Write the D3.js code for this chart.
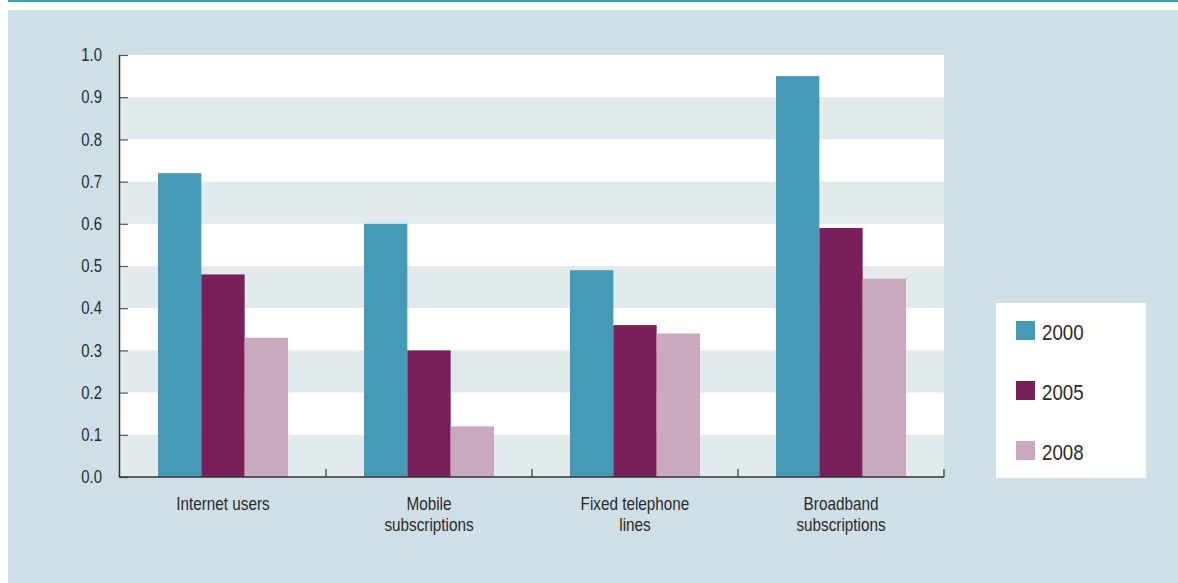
<!DOCTYPE html>
<html>
<head>
<meta charset="utf-8">
<script src="https://cdnjs.cloudflare.com/ajax/libs/d3/7.8.5/d3.min.js"></script>
<style>
  html, body { margin: 0; padding: 0; background: #ffffff; }
  svg { display: block; }
  text { font-family: "Liberation Sans", Arial, Helvetica, sans-serif; fill: #2b2b2b; }
</style>
</head>
<body>
<svg id="chart" width="1178" height="583"></svg>
<script>
// Categories and their label lines
const categories = ["Internet users", "Mobile subscriptions", "Fixed telephone lines", "Broadband subscriptions"];
const categoryLabels = [["Internet users"], ["Mobile", "subscriptions"], ["Fixed telephone", "lines"], ["Broadband", "subscriptions"]];

// Series (years) and values per category
const series = ["2000", "2005", "2008"];
const values2000 = [0.72, 0.60, 0.49, 0.95];
const values2005 = [0.48, 0.30, 0.36, 0.59];
const values2008 = [0.33, 0.12, 0.34, 0.47];
const seriesColors = ["#449bb5", "#7b1f5c", "#caa9bf"];

// Y axis ticks
const yTicks = [0, 0.1, 0.2, 0.3, 0.4, 0.5, 0.6, 0.7, 0.8, 0.9, 1.0];

const seriesValues = [values2000, values2005, values2008];

// Horizontal squeeze that gives the regular sans a condensed look
const NARROW = 0.85;
const FONT = '"Liberation Sans", Arial, Helvetica, sans-serif';

const svg = d3.select("#chart");
const W = 1178, H = 583;

// Frame: thin accent rule at the top and the tinted panel
svg.append("rect").attr("x", 8).attr("y", 0).attr("width", W - 8).attr("height", 2).attr("fill", "#4a9bb5");
svg.append("rect").attr("x", 8).attr("y", 10).attr("width", W - 8).attr("height", H - 10).attr("fill", "#cedfe6");

const plot = { left: 120, right: 944, top: 55, bottom: 477 };

const x0 = d3.scaleBand().domain(categories).range([plot.left, plot.right]).padding(0);
const x1 = d3.scaleBand().domain(series).range([38, x0.bandwidth() - 38]).padding(0);
const y = d3.scaleLinear().domain([0, 1]).range([plot.bottom, plot.top]);

// Plot background with alternating stripes
svg.append("rect")
  .attr("x", plot.left).attr("y", plot.top)
  .attr("width", plot.right - plot.left).attr("height", plot.bottom - plot.top)
  .attr("fill", "#ffffff");

const stripeStarts = yTicks.filter((d, i) => i % 2 === 0 && i < yTicks.length - 1);
svg.append("g").selectAll("rect")
  .data(stripeStarts)
  .join("rect")
  .attr("x", plot.left)
  .attr("width", plot.right - plot.left)
  .attr("y", d => y(d + 0.1))
  .attr("height", d => y(d) - y(d + 0.1))
  .attr("fill", "#e2eaed");

// Bars
const groups = svg.append("g").selectAll("g")
  .data(categories)
  .join("g")
  .attr("transform", d => `translate(${x0(d)},0)`);

groups.selectAll("rect")
  .data((c, ci) => series.map((s, si) => ({ s, si, v: seriesValues[si][ci] })))
  .join("rect")
  .attr("x", d => x1(d.s))
  .attr("width", x1.bandwidth())
  .attr("y", d => y(d.v))
  .attr("height", d => y(0) - y(d.v))
  .attr("fill", d => seriesColors[d.si]);

// Y axis (ticks point into the plot)
const labelGap = 18;
const yAxis = d3.axisLeft(y).tickValues(yTicks).tickFormat(d3.format(".1f")).tickSize(-8).tickPadding(labelGap);
const gy = svg.append("g").attr("transform", `translate(${plot.left},0)`).call(yAxis);
gy.select(".domain").attr("stroke", "#333").attr("stroke-width", 1.5).attr("d", `M-0.5,${plot.top}V${plot.bottom}`);
gy.selectAll(".tick line").attr("stroke", "#555").attr("stroke-width", 1.2);
gy.selectAll(".tick text")
  .attr("font-family", FONT)
  .attr("font-size", 17.5)
  .attr("fill", "#2b2b2b")
  .attr("x", -labelGap / NARROW)
  .attr("transform", `scale(${NARROW},1)`);

// X axis with boundary ticks between categories
const boundaries = categories.map(c => x0(c) + x0.bandwidth());
const gx = svg.append("g");
gx.append("line")
  .attr("x1", plot.left - 1).attr("x2", plot.right)
  .attr("y1", plot.bottom).attr("y2", plot.bottom)
  .attr("stroke", "#333").attr("stroke-width", 1.5);
gx.selectAll("line.sep")
  .data(boundaries)
  .join("line")
  .attr("class", "sep")
  .attr("x1", d => d).attr("x2", d => d)
  .attr("y1", plot.bottom).attr("y2", plot.bottom - 8)
  .attr("stroke", "#333").attr("stroke-width", 1.2);

// Category labels
const labels = svg.append("g").selectAll("text")
  .data(categories)
  .join("text")
  .attr("transform", `scale(${NARROW},1)`)
  .attr("x", d => (x0(d) + x0.bandwidth() / 2) / NARROW)
  .attr("y", 510)
  .attr("text-anchor", "middle")
  .attr("font-size", 18);
labels.selectAll("tspan")
  .data((d, i) => categoryLabels[i])
  .join("tspan")
  .attr("x", function () { return d3.select(this.parentNode).attr("x"); })
  .attr("dy", (d, i) => i === 0 ? 0 : 21.5)
  .text(d => d);

// Legend
const legend = svg.append("g");
legend.append("rect")
  .attr("x", 996).attr("y", 303).attr("width", 150).attr("height", 175)
  .attr("fill", "#ffffff");
const legendY = d3.scalePoint().domain(series).range([340, 460]);
const items = legend.selectAll("g.item")
  .data(series)
  .join("g")
  .attr("class", "item")
  .attr("transform", d => `translate(1016,${legendY(d)})`);
items.append("rect")
  .attr("x", 0).attr("y", -19).attr("width", 19).attr("height", 19)
  .attr("fill", (d, i) => seriesColors[i]);
items.append("text")
  .attr("transform", `scale(${NARROW},1)`)
  .attr("x", 26 / NARROW).attr("y", 0)
  .attr("font-size", 22)
  .text(d => d);
</script>
</body>
</html>
